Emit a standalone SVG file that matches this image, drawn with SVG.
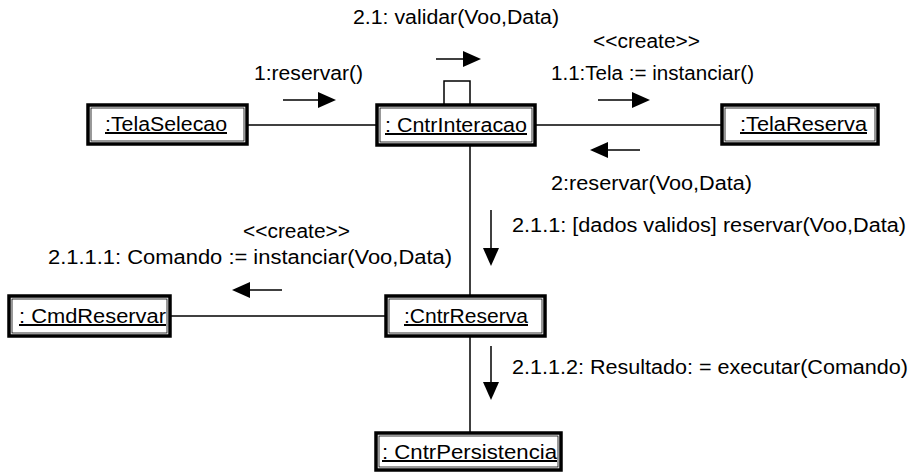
<svg xmlns="http://www.w3.org/2000/svg" width="911" height="472" viewBox="0 0 911 472">
<defs>
<style>
.t{font-family:"Liberation Sans",Arial,sans-serif;font-size:20px;fill:#000}
.n{font-family:"Liberation Sans",Arial,sans-serif;font-size:20px;fill:#000;text-decoration:underline}
.bo{fill:#fff;stroke:#000;stroke-width:3.5}
.bi{fill:none;stroke:#000;stroke-width:0.8}
.c{stroke:#000;stroke-width:1.5;fill:none}
.a{stroke:#000;stroke-width:1.5;fill:none}
.h{fill:#000;stroke:none}
</style>
</defs>
<rect width="911" height="472" fill="#fff"/>
<g id="connectors">
<line class="c" x1="247" y1="125" x2="377" y2="125"/>
<line class="c" x1="535" y1="125" x2="722" y2="125"/>
<line class="c" x1="470" y1="145" x2="470" y2="295"/>
<line class="c" x1="170" y1="316" x2="386" y2="316"/>
<line class="c" x1="470" y1="336" x2="470" y2="433"/>
<path class="c" d="M444,105 V81 H470 V105"/>
</g>
<g id="messages">
<g id="m2_1"><text class="t" x="353" y="24" textLength="206" lengthAdjust="spacingAndGlyphs">2.1: validar(Voo,Data)</text>
<line class="a" x1="436" y1="59" x2="465" y2="59"/><polygon class="h" points="463,51 481,59 463,67"/></g>
<g id="m1"><text class="t" x="254" y="80" textLength="109" lengthAdjust="spacingAndGlyphs">1:reservar()</text>
<line class="a" x1="283" y1="100" x2="320" y2="100"/><polygon class="h" points="318,92 336,100 318,108"/></g>
<g id="m1_1"><text class="t" x="593" y="48" textLength="107" lengthAdjust="spacingAndGlyphs">&lt;&lt;create&gt;&gt;</text>
<text class="t" x="551" y="80" textLength="203" lengthAdjust="spacingAndGlyphs">1.1:Tela := instanciar()</text>
<line class="a" x1="598" y1="100" x2="634" y2="100"/><polygon class="h" points="632,92 650,100 632,108"/></g>
<g id="m2"><line class="a" x1="606" y1="150" x2="640" y2="150"/><polygon class="h" points="608,142 590,150 608,158"/>
<text class="t" x="551" y="190" textLength="201" lengthAdjust="spacingAndGlyphs">2:reservar(Voo,Data)</text></g>
<g id="m2_1_1"><line class="a" x1="491" y1="210" x2="491" y2="250"/><polygon class="h" points="483,248 491,266 499,248"/>
<text class="t" x="512" y="232" textLength="394" lengthAdjust="spacingAndGlyphs">2.1.1: [dados validos] reservar(Voo,Data)</text></g>
<g id="m2_1_1_1"><text class="t" x="243" y="238" textLength="107" lengthAdjust="spacingAndGlyphs">&lt;&lt;create&gt;&gt;</text>
<text class="t" x="48" y="264" textLength="404" lengthAdjust="spacingAndGlyphs">2.1.1.1: Comando := instanciar(Voo,Data)</text>
<line class="a" x1="248" y1="290" x2="282" y2="290"/><polygon class="h" points="250,282 232,290 250,298"/></g>
<g id="m2_1_1_2"><line class="a" x1="491" y1="346" x2="491" y2="384"/><polygon class="h" points="483,382 491,400 499,382"/>
<text class="t" x="512" y="374" textLength="396" lengthAdjust="spacingAndGlyphs">2.1.1.2: Resultado: = executar(Comando)</text></g>
</g>
<g id="TelaSelecao"><rect class="bo" x="88" y="105" width="159" height="39"/><rect class="bi" x="91" y="108" width="153" height="33"/>
<text class="n" x="105" y="131" textLength="122" lengthAdjust="spacingAndGlyphs">:TelaSelecao</text></g>
<g id="CntrInteracao"><rect class="bo" x="377" y="105" width="158" height="40"/><rect class="bi" x="380" y="108" width="152" height="34"/>
<text class="n" x="385" y="132" textLength="142" lengthAdjust="spacingAndGlyphs">: CntrInteracao</text></g>
<g id="TelaReserva"><rect class="bo" x="722" y="105" width="156" height="39"/><rect class="bi" x="725" y="108" width="150" height="33"/>
<text class="n" x="740" y="131" textLength="127" lengthAdjust="spacingAndGlyphs">:TelaReserva</text></g>
<g id="CmdReservar"><rect class="bo" x="9" y="296" width="161" height="40"/><rect class="bi" x="12" y="299" width="155" height="34"/>
<text class="n" x="19" y="323" textLength="147" lengthAdjust="spacingAndGlyphs">: CmdReservar</text></g>
<g id="CntrReserva"><rect class="bo" x="386" y="296" width="159" height="40"/><rect class="bi" x="389" y="299" width="153" height="34"/>
<text class="n" x="404" y="323" textLength="124" lengthAdjust="spacingAndGlyphs">:CntrReserva</text></g>
<g id="CntrPersistencia"><rect class="bo" x="376" y="433" width="185" height="37"/><rect class="bi" x="379" y="436" width="179" height="31"/>
<text class="n" x="382" y="459" textLength="175" lengthAdjust="spacingAndGlyphs">: CntrPersistencia</text></g>
</svg>
